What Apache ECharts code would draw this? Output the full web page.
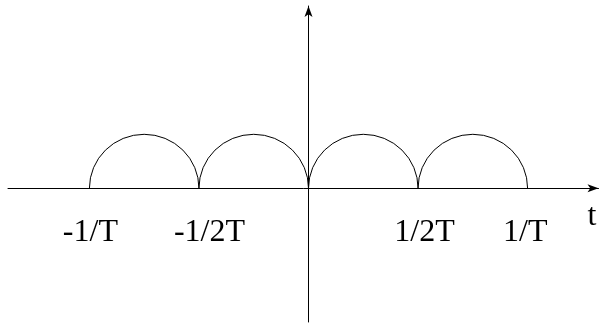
<!DOCTYPE html>
<html>
<head>
<meta charset="utf-8">
<script src="https://cdn.jsdelivr.net/npm/echarts@6/dist/echarts.min.js"></script>
<style>
  html, body { margin: 0; padding: 0; background: #ffffff; }
  #chart { width: 605px; height: 326px; }
</style>
</head>
<body>
<div id="chart"></div>
<script>
// ---- data ----
const arcStarts  = [-1, -0.5, 0, 0.5];   // in units of 1/T
const arcEnds    = [-0.5, 0, 0.5, 1];
const arcHeights = [1, 1, 1, 1];
const tickValues = [-1, -0.5, 0.5, 1];
const tickLabels = ['-1/T', '-1/2T', '1/2T', '1/T'];
const axisName   = 't';

// ---- styling ----
const FONT = "'Liberation Serif', 'Times New Roman', serif";
const labelNudgeX = [1, 10.5, 6.5, -2.3];
const X_MIN = -1.3715, X_MAX = 1.3236;

const chart = echarts.init(document.getElementById('chart'), null, { renderer: 'canvas' });

const arcData = arcStarts.map((s, i) => [s, arcEnds[i], arcHeights[i]]);
const labelData = tickValues.map((v, i) => [v, i]);

const option = {
  backgroundColor: '#ffffff',
  animation: false,
  grid: { left: 8, right: 6.5, top: 6, bottom: 4, containLabel: false },
  xAxis: {
    type: 'value',
    min: X_MIN,
    max: X_MAX,
    splitLine: { show: false },
    axisTick: { show: false },
    axisLabel: { show: false },
    axisLine: {
      onZero: true,
      symbol: ['none', 'arrow'],
      symbolSize: [6, 11],
      lineStyle: { color: '#000', width: 1 }
    }
  },
  yAxis: {
    type: 'value',
    min: -2.476,
    max: 3.376,
    splitLine: { show: false },
    axisTick: { show: false },
    axisLabel: { show: false },
    axisLine: {
      onZero: true,
      symbol: ['none', 'arrow'],
      symbolSize: [6, 11],
      lineStyle: { color: '#000', width: 1 }
    }
  },
  series: [
    {
      type: 'custom',
      name: 'arcs',
      data: arcData,
      silent: true,
      renderItem: function (params, api) {
        const s = api.value(0), e = api.value(1), h = api.value(2);
        const p0 = api.coord([s, 0]);
        const p1 = api.coord([e, 0]);
        const pt = api.coord([(s + e) / 2, h]);
        const rx = (p1[0] - p0[0]) / 2;
        const ry = p0[1] - pt[1];
        return {
          type: 'path',
          shape: {
            pathData: 'M' + p0[0] + ' ' + p0[1] + ' A' + rx + ' ' + ry + ' 0 0 1 ' + p1[0] + ' ' + p1[1]
          },
          style: { fill: 'none', stroke: '#000', lineWidth: 1 }
        };
      }
    },
    {
      type: 'custom',
      name: 'ticklabels',
      data: labelData,
      silent: true,
      renderItem: function (params, api) {
        const v = api.value(0);
        const idx = api.value(1);
        const p = api.coord([v, 0]);
        return {
          type: 'text',
          x: p[0] + labelNudgeX[idx],
          y: p[1] + 44.5,
          style: {
            text: tickLabels[idx],
            fontFamily: FONT,
            fontSize: 32,
            fill: '#000',
            align: 'center',
            verticalAlign: 'middle'
          }
        };
      }
    },
    {
      type: 'custom',
      name: 'axisname',
      data: [[X_MAX, 0]],
      silent: true,
      renderItem: function (params, api) {
        const p = api.coord([api.value(0), api.value(1)]);
        return {
          type: 'text',
          x: p[0] - 6.5,
          y: p[1] + 28,
          style: {
            text: axisName,
            fontFamily: FONT,
            fontSize: 32,
            fill: '#000',
            align: 'center',
            verticalAlign: 'middle'
          }
        };
      }
    }
  ]
};

chart.setOption(option);
</script>
</body>
</html>
